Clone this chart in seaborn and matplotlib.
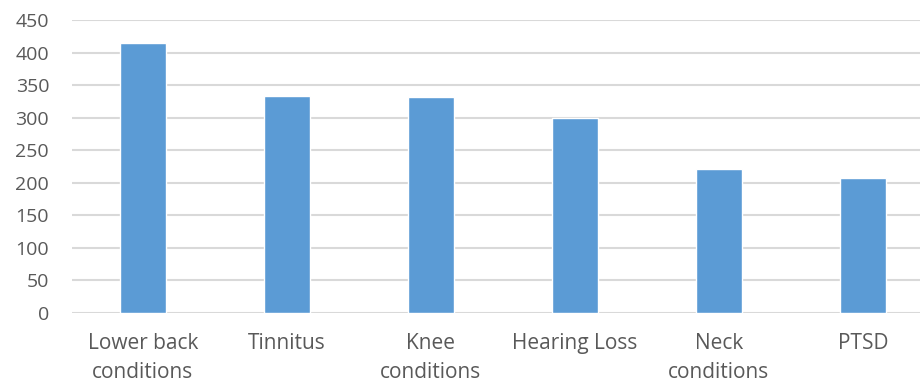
import matplotlib
matplotlib.use("Agg")
import matplotlib.pyplot as plt
import seaborn as sns
import pandas as pd

categories = ["Lower back\nconditions", "Tinnitus", "Knee\nconditions",
              "Hearing Loss", "Neck\nconditions", "PTSD"]
counts = [415, 334, 332, 299, 221, 207]
y_ticks = [0, 50, 100, 150, 200, 250, 300, 350, 400, 450]

sns.set_style("white")
plt.rcParams["font.family"] = ["Open Sans", "DejaVu Sans"]

df = pd.DataFrame({"condition": categories, "count": counts})

fig = plt.figure(figsize=(9.23, 3.84), dpi=100)
ax = fig.add_axes([72 / 923, 71 / 384, 848 / 923, 293 / 384])

sns.barplot(data=df, x="condition", y="count", color="#5b9bd5",
            saturation=1, width=0.315, ax=ax, zorder=3)

ax.set_ylim(0, 450)
ax.set_yticks(y_ticks)
ax.set_xlim(-0.493, 5.396)
ax.yaxis.grid(True, color="#d9d9d9", linewidth=1.5, zorder=0)
ax.set_axisbelow(True)
for s in ax.spines.values():
    s.set_visible(False)
ax.set_xlabel("")
ax.set_ylabel("")
ax.tick_params(axis="both", length=0, colors="#595959")
ax.tick_params(axis="y", pad=16.5, labelsize=14)
ax.tick_params(axis="x", pad=14.5, labelsize=15)
for lbl in ax.get_xticklabels():
    lbl.set_linespacing(1.5)
    lbl.set_verticalalignment("top")

fig.savefig("out.png", dpi=100)
